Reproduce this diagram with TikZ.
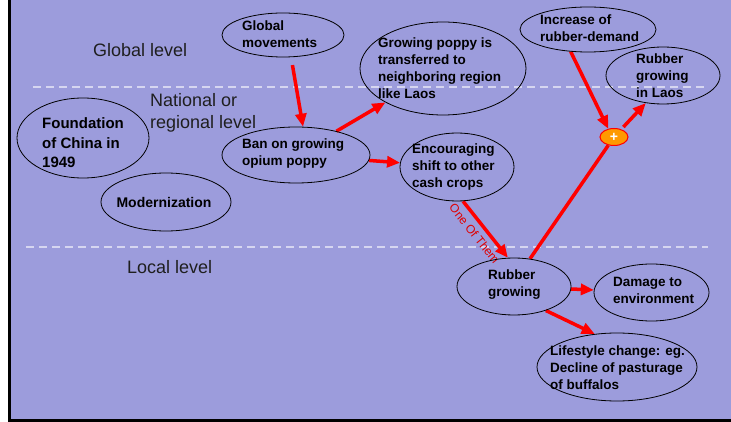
\documentclass[tikz,border=0pt]{standalone}
\usepackage{fontspec}
\setmainfont{Liberation Sans}
\usetikzlibrary{arrows.meta,shapes.geometric}
\definecolor{slide}{RGB}{156,156,220}
\definecolor{guide}{RGB}{214,214,240}
\definecolor{plusfill}{RGB}{255,153,0}
\pgfdeclarelayer{bg}
\pgfdeclarelayer{wires}
\pgfsetlayers{bg,wires,main}

\begin{document}
\begin{tikzpicture}[x=1pt,y=-1pt,
  bubble/.style={ellipse, draw=black, line width=0.8pt, inner sep=0pt},
  caption/.style={font=\bfseries\fontsize{13.5}{17}\selectfont, align=left,
    inner sep=0pt, anchor=west, text=black},
  levelname/.style={font=\fontsize{18}{22}\selectfont, align=left,
    inner sep=0pt, anchor=west, text=black!88},
  flow/.style={draw=red, line width=3.5pt, -{Triangle[length=13pt,width=11pt]}},
  link/.style={draw=red, line width=3.5pt},
  levelline/.style={draw=guide, line width=1.5pt, dash pattern=on 8pt off 5pt},
]
\useasboundingbox (0,0) rectangle (731,422);

% slide background with its frame
\begin{pgfonlayer}{bg}
  \fill[white] (0,0) rectangle (731,422);
  \fill[slide] (11,0) rectangle (731,419);
  \draw[black, line width=3pt] (9.5,0) -- (9.5,422);
  \draw[black, line width=3pt] (8,420.5) -- (731,420.5);
  % level separators
  \draw[levelline] (33,87) -- (708,87);
  \draw[levelline] (26,247) -- (708,247);
\end{pgfonlayer}

% level names
\node[levelname] (lv-global) at (93,50) {Global level};
\node[levelname] (lv-national) at (150,113) {National or\\regional level};
\node[levelname] (lv-local) at (127,267) {Local level};

% bubbles
\node[bubble, minimum width=122pt, minimum height=44pt] (gm) at (283,35) {};
\node[bubble, minimum width=132pt, minimum height=80pt] (fd) at (83,138) {};
\node[bubble, minimum width=130pt, minimum height=58pt] (mod) at (166,202) {};
\node[bubble, minimum width=148pt, minimum height=56pt] (ban) at (296,155) {};
\node[bubble, minimum width=166pt, minimum height=93pt] (poppy) at (443,68.5) {};
\node[bubble, minimum width=136pt, minimum height=45pt] (inc) at (588,29.5) {};
\node[bubble, minimum width=114pt, minimum height=57pt] (laos) at (663,75.5) {};
\node[bubble, minimum width=114pt, minimum height=68pt] (enc) at (457,167) {};
\node[bubble, minimum width=114pt, minimum height=57pt] (rg) at (514,286.5) {};
\node[bubble, minimum width=115pt, minimum height=57pt] (dmg) at (651.5,292.5) {};
\node[bubble, minimum width=160pt, minimum height=68pt] (life) at (617,367) {};

% bubble texts
\node[caption] (gm-t) at (242,34) {Global\\movements};
\node[caption, font=\bfseries\fontsize{15}{19.5}\selectfont] (fd-t) at (42,143)
  {Foundation\\of China in\\1949};
\node[caption, font=\bfseries\fontsize{14}{17}\selectfont, anchor=center] (mod-t) at (164,202) {Modernization};
\node[caption] (ban-t) at (242,154) {Ban on growing\\opium poppy};
\node[caption] (poppy-t) at (378,68) {Growing poppy is\\transferred to\\neighboring region\\like Laos};
\node[caption] (inc-t) at (540,28) {Increase of\\rubber-demand};
\node[caption] (laos-t) at (636,76) {Rubber\\growing\\in Laos};
\node[caption] (enc-t) at (412,167.5) {Encouraging\\shift to other\\cash crops};
\node[caption] (rg-t) at (488,285) {Rubber\\growing};
\node[caption] (dmg-t) at (613,290.5) {Damage to\\environment};
\node[caption] (life-t) at (550,367.5) {Lifestyle change: eg.\\Decline of pasturage\\of buffalos};

% junction of the two rubber influences
\node[ellipse, fill=plusfill, draw=red, line width=1pt, minimum width=28pt,
  minimum height=17pt, inner sep=0pt, text=white,
  font=\bfseries\fontsize{14}{14}\selectfont] (plus) at (614,137) {+};

% causal links
\begin{pgfonlayer}{wires}
  \draw[flow, shorten <=8pt] (gm.-70) -- (ban.76);
  \draw[flow] (ban) -- (poppy);
  \draw[flow] (ban) -- (enc);
  \draw[flow] (enc.-80) -- node[sloped, below=5pt, pos=0.45, inner sep=0pt,
      text=red!88!black, font=\fontsize{12}{14}\selectfont] (them) {One Of Them} (rg.102);
  \draw[link] (rg.60) -- (plus);
  \draw[flow, shorten <=3pt] (plus) -- (laos.238);
  \draw[flow] (inc.232) -- (plus.125);
  \draw[flow] (rg) -- (dmg);
  \draw[flow] (rg.-37) -- (life.124);
\end{pgfonlayer}
\end{tikzpicture}
\end{document}
